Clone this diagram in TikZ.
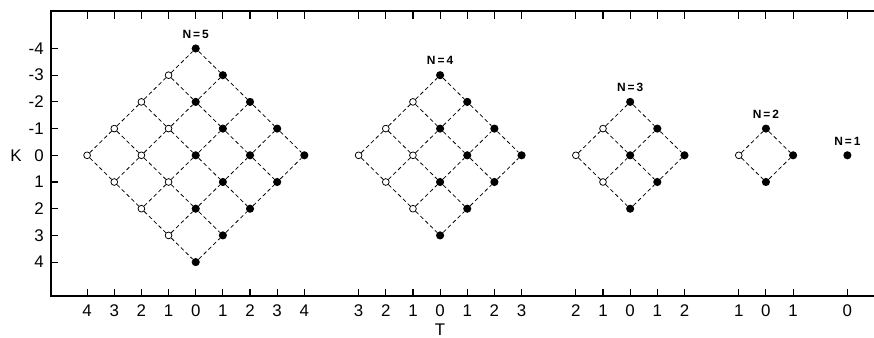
\documentclass[tikz,border=0pt]{standalone}
\usepackage{fontspec}
\setmainfont{Liberation Sans}
\usetikzlibrary{positioning}

\begin{document}
\begin{tikzpicture}[x=0.67875cm,y=-0.6675cm,
  full/.style={circle,fill,inner sep=0pt,minimum size=5.8pt},
  open/.style={circle,draw,line width=0.55pt,fill=white,inner sep=0pt,minimum size=4.8pt},
  link/.style={dash pattern=on 2.8pt off 2pt,line width=0.55pt},
  tick/.style={line width=0.8pt},
  lab/.style={font=\fontsize{8.5}{10}\selectfont\bfseries,inner sep=0pt},
  num/.style={font=\fontsize{12}{14}\selectfont,inner sep=0pt}]
  \useasboundingbox (-7.208,-5.816) rectangle (24.98,6.805);
  % frame, open on the right
  \draw[line width=1pt] (24.98,-5.40) -- (-5.33,-5.40) -- (-5.33,5.27) -- (24.98,5.27);
  % K axis
  \foreach \k in {-4,...,4} {
    \draw[tick] (-5.33,\k) -- (-5.07,\k);
    \node[num,anchor=east] (k\k) at (-5.59,\k) {\k};
  }
  \node[num] (kname) at (-6.62,0) {K};
  \node[num] (tname) at (9,6.52) {T};
  % one lattice per N
  \foreach \n/\c in {5/0,4/9,3/16,2/21,1/24} {
    \pgfmathtruncatemacro\m{\n-1}
    \pgfmathtruncatemacro\lo{-\m}
    \foreach \t in {\lo,...,\m} {
      \pgfmathtruncatemacro\at{abs(\t)}
      \draw[tick] (\c+\t,-5.40) -- (\c+\t,-5.10);
      \draw[tick] (\c+\t,5.27) -- (\c+\t,5.01);
      \node[num] (t\n-\t) at (\c+\t,5.81) {\at};
    }
    \foreach \a in {0,...,\m} \foreach \b in {0,...,\m} {
      \pgfmathtruncatemacro\t{\a+\b-\m}
      \pgfmathtruncatemacro\k{\a-\b}
      \ifnum\t<0
        \node[open] (g\n-\a-\b) at (\c+\t,\k) {};
      \else
        \node[full] (g\n-\a-\b) at (\c+\t,\k) {};
      \fi
    }
    \foreach \a in {0,...,\m} \foreach \b in {0,...,\m} {
      \pgfmathtruncatemacro\na{\a+1}
      \pgfmathtruncatemacro\nb{\b+1}
      \ifnum\a<\m \draw[link] (g\n-\a-\b) -- (g\n-\na-\b); \fi
      \ifnum\b<\m \draw[link] (g\n-\a-\b) -- (g\n-\a-\nb); \fi
    }
    \node[lab] (n\n) at ([yshift=0.36cm]g\n-0-\m.center) {N\,=\,\n};
  }
\end{tikzpicture}
\end{document}
